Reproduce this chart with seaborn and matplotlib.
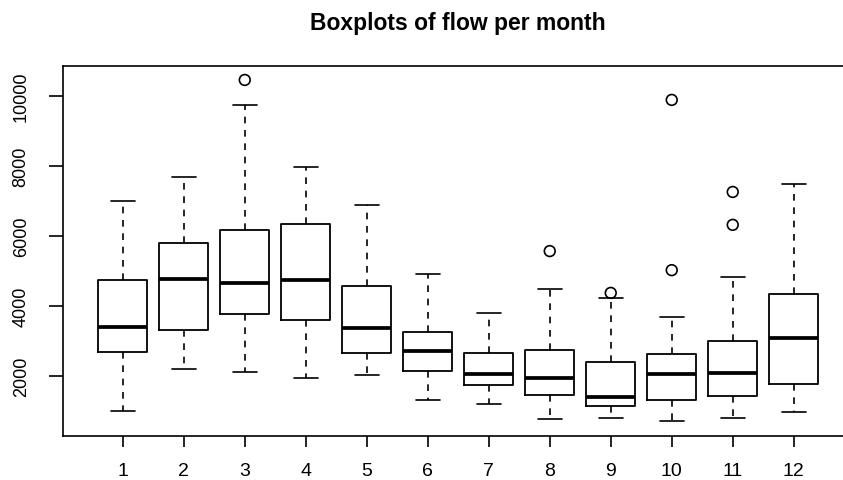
import matplotlib
matplotlib.use("Agg")
import matplotlib.pyplot as plt
import seaborn as sns

# Monthly flow summary statistics (five-number summaries per month)
months = [1, 2, 3, 4, 5, 6, 7, 8, 9, 10, 11, 12]
whisker_low = [990, 2210, 2115, 1945, 2030, 1305, 1190, 755, 810, 700, 785, 955]
q1 = [2685, 3305, 3770, 3590, 2640, 2135, 1745, 1465, 1135, 1315, 1430, 1755]
median = [3400, 4765, 4655, 4735, 3355, 2705, 2040, 1925, 1400, 2055, 2095, 3070]
q3 = [4745, 5810, 6165, 6335, 4565, 3255, 2650, 2735, 2390, 2630, 3000, 4345]
whisker_high = [7000, 7670, 9735, 7970, 6895, 4915, 3785, 4485, 4230, 3670, 4820, 7485]

# Points beyond the whiskers
outlier_month = [3, 8, 9, 10, 10, 11, 11]
outlier_value = [10455, 5565, 4370, 9885, 5020, 7255, 6315]

sns.set_style("white")
plt.rcParams["font.family"] = ["Liberation Sans", "DejaVu Sans"]
plt.rcParams["text.color"] = "black"
plt.rcParams["xtick.bottom"] = True
plt.rcParams["ytick.left"] = True

fig = plt.figure(figsize=(8.43, 4.81), dpi=100)
ax = fig.add_axes([63 / 843, 1 - 436.7 / 481, 790.5 / 843, 369.4 / 481])

stats = [
    dict(med=m, q1=a, q3=b, whislo=lo, whishi=hi, fliers=[], label=str(mo))
    for mo, lo, a, m, b, hi in zip(months, whisker_low, q1, median, q3, whisker_high)
]
ax.bxp(
    stats,
    positions=months,
    widths=0.8,
    showfliers=False,
    boxprops=dict(color="black", linewidth=1.3),
    medianprops=dict(color="black", linewidth=2.7, solid_capstyle="butt"),
    whiskerprops=dict(color="black", linewidth=1.2, linestyle=(0, (4.0, 4.0))),
    capprops=dict(color="black", linewidth=1.2),
)

sns.scatterplot(
    x=outlier_month, y=outlier_value, ax=ax, marker="o", s=60,
    color="black", facecolor="none", edgecolor="black", linewidth=1.2,
    zorder=5,
)

ax.set_xlim(0.02, 12.98)
ax.set_ylim(290, 10845)
ax.set_xticks(months)
ax.set_xticklabels([str(m) for m in months])
ax.set_yticks([2000, 4000, 6000, 8000, 10000])

for side in ["left", "right", "top", "bottom"]:
    ax.spines[side].set_visible(True)
    ax.spines[side].set_color("black")
    ax.spines[side].set_linewidth(1.2)

ax.tick_params(axis="both", direction="out", width=1.2,
               color="black", labelcolor="black")
ax.tick_params(axis="x", length=7.7, pad=11.5, labelsize=14)
ax.tick_params(axis="y", length=10, pad=14, labelsize=13)
plt.setp(ax.get_yticklabels(), rotation=90, va="center")

ax.set_xlabel("")
ax.set_ylabel("")
ax.set_title("Boxplots of flow per month", fontsize=16.5, fontweight="bold",
             color="black", pad=27)

fig.savefig("out.png", dpi=100)
